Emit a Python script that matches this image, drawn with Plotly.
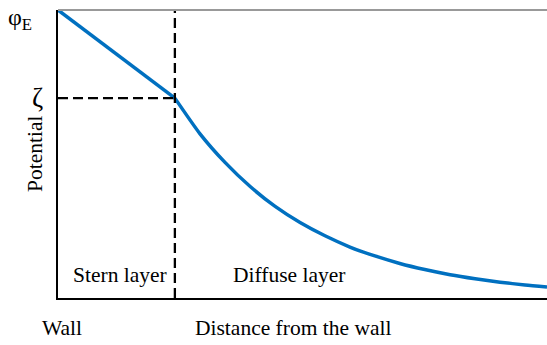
import plotly.graph_objects as go

# Data (x: distance from wall 0-100, y: potential 0-100)
stern_x = [0.0, 23.9]
stern_y = [100.0, 69.4]
diffuse_x = [23.9, 29.0, 34.2, 39.3, 44.4, 49.5, 54.6, 59.7, 64.8, 69.9, 75.0, 80.2, 85.3, 90.4, 95.5, 100.0]
diffuse_y = [69.4, 57.1, 47.0, 38.7, 31.8, 26.2, 21.6, 17.7, 14.6, 12.0, 9.9, 8.1, 6.7, 5.5, 4.5, 3.8]
zeta_x = 23.9
zeta_y = 69.4

BLUE = "#0070C0"
FONT = "Liberation Serif"

fig = go.Figure()
fig.add_trace(go.Scatter(x=stern_x, y=stern_y, mode="lines",
                         line=dict(color=BLUE, width=3.5), showlegend=False))
fig.add_trace(go.Scatter(x=diffuse_x, y=diffuse_y, mode="lines",
                         line=dict(color=BLUE, width=3.5, shape="spline", smoothing=0.6),
                         showlegend=False))
# dashed guides
fig.add_trace(go.Scatter(x=[zeta_x, zeta_x], y=[0, 100], mode="lines",
                         line=dict(color="black", width=2.3, dash="10px,5px"), showlegend=False))
fig.add_trace(go.Scatter(x=[0, zeta_x], y=[zeta_y, zeta_y], mode="lines",
                         line=dict(color="black", width=2.3, dash="10px,5px"), showlegend=False))

fig.add_shape(type="line", xref="paper", yref="paper", x0=0, x1=1, y0=1, y1=1,
              line=dict(color="#999999", width=2))

ann = []
ann.append(dict(text="φ<sub>E</sub>", xref="paper", yref="paper", x=-0.106, y=1.028,
                xanchor="left", yanchor="top", showarrow=False, font=dict(size=24)))
ann.append(dict(text="ζ", xref="paper", yref="y", x=-0.027, y=zeta_y,
                xanchor="right", yanchor="middle", showarrow=False, font=dict(size=27)))
ann.append(dict(text="Potential", xref="paper", yref="paper", x=-0.047, y=0.5,
                xanchor="center", yanchor="middle", textangle=-90, showarrow=False,
                font=dict(size=21.5)))
ann.append(dict(text="Stern layer", x=12.7, y=8, xanchor="center", yanchor="middle",
                showarrow=False, font=dict(size=21.5)))
ann.append(dict(text="Diffuse layer", x=47.3, y=8, xanchor="center", yanchor="middle",
                showarrow=False, font=dict(size=21.5)))
ann.append(dict(text="Wall", xref="paper", yref="paper", x=0.008, y=-0.104,
                xanchor="center", yanchor="middle", showarrow=False, font=dict(size=21.5)))
ann.append(dict(text="Distance from the wall", xref="paper", yref="paper", x=0.48, y=-0.104,
                xanchor="center", yanchor="middle", showarrow=False, font=dict(size=21.5)))

fig.update_layout(
    width=547, height=345,
    margin=dict(l=58, r=0, t=10, b=47),
    paper_bgcolor="white", plot_bgcolor="white",
    font=dict(family=FONT, color="black"),
    annotations=ann,
    xaxis=dict(range=[0, 100], showgrid=False, zeroline=False, showticklabels=False,
               ticks="", showline=True, linecolor="black", linewidth=1.5),
    yaxis=dict(range=[0, 100], showgrid=False, zeroline=False, showticklabels=False,
               ticks="", showline=True, linecolor="black", linewidth=1.5),
)

fig.write_html("out.html")
